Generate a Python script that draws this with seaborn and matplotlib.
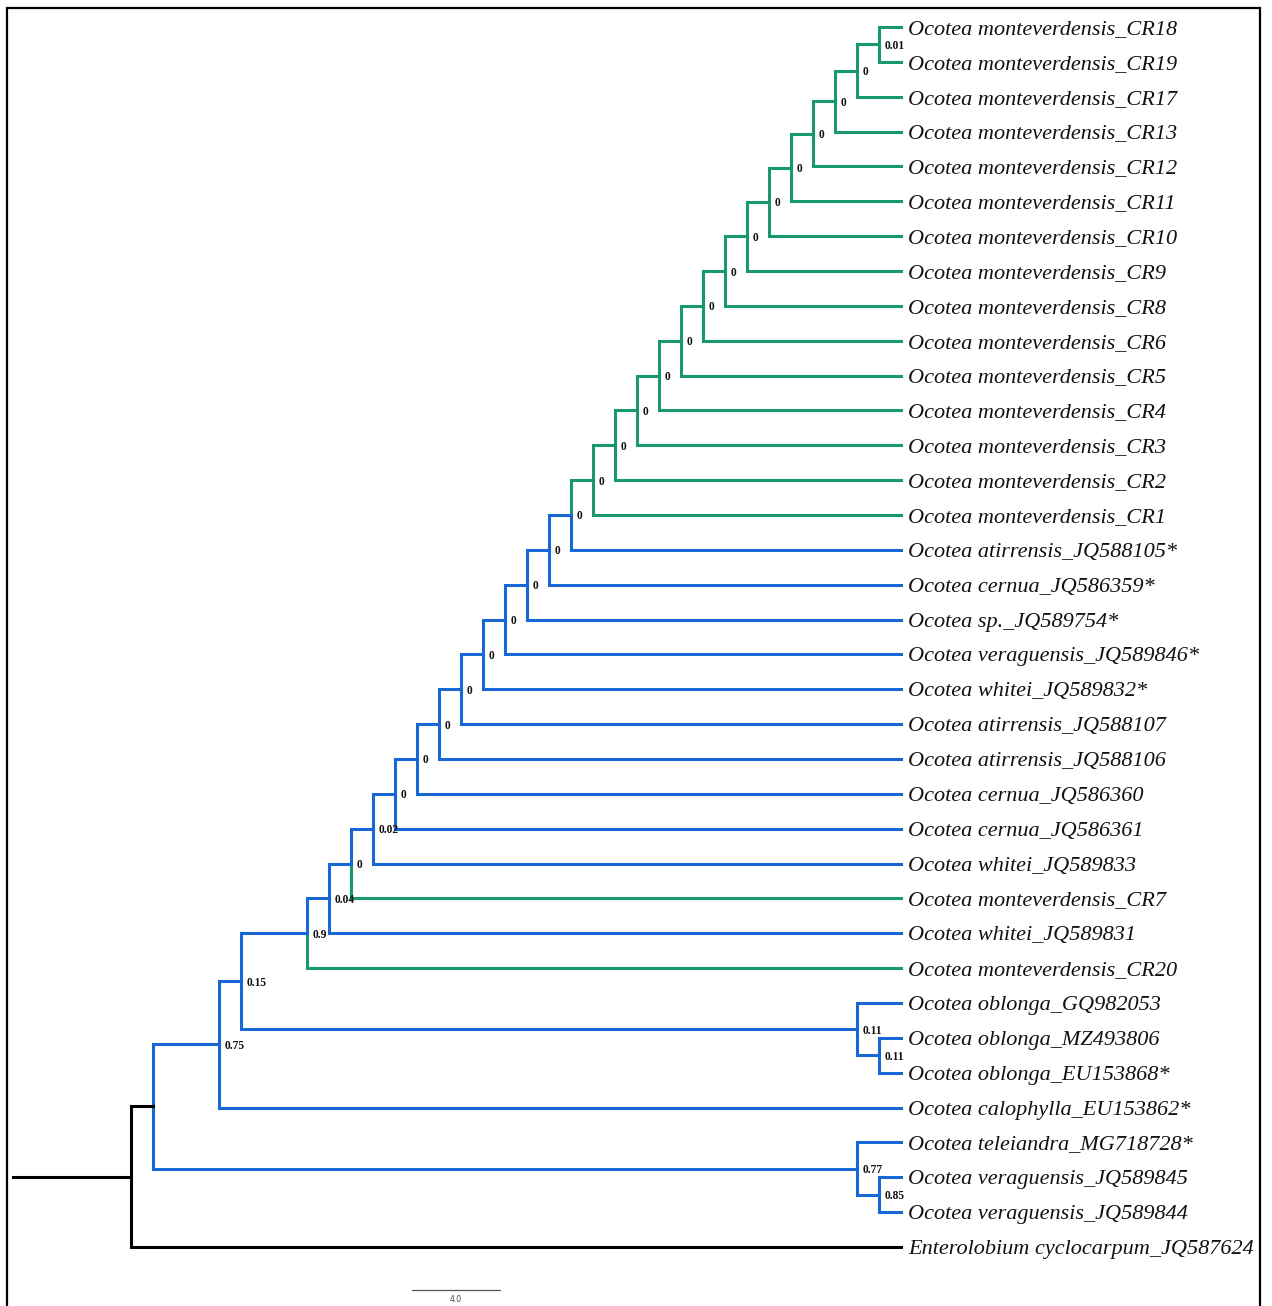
import matplotlib
matplotlib.use("Agg")
import matplotlib.pyplot as plt
import seaborn as sns
import pandas as pd
from matplotlib.patches import Rectangle

# ---------------- data ----------------
leaf_names = [
    "Ocotea monteverdensis_CR18", "Ocotea monteverdensis_CR19", "Ocotea monteverdensis_CR17",
    "Ocotea monteverdensis_CR13", "Ocotea monteverdensis_CR12", "Ocotea monteverdensis_CR11",
    "Ocotea monteverdensis_CR10", "Ocotea monteverdensis_CR9", "Ocotea monteverdensis_CR8",
    "Ocotea monteverdensis_CR6", "Ocotea monteverdensis_CR5", "Ocotea monteverdensis_CR4",
    "Ocotea monteverdensis_CR3", "Ocotea monteverdensis_CR2", "Ocotea monteverdensis_CR1",
    "Ocotea atirrensis_JQ588105*", "Ocotea cernua_JQ586359*", "Ocotea sp._JQ589754*",
    "Ocotea veraguensis_JQ589846*", "Ocotea whitei_JQ589832*", "Ocotea atirrensis_JQ588107",
    "Ocotea atirrensis_JQ588106", "Ocotea cernua_JQ586360", "Ocotea cernua_JQ586361",
    "Ocotea whitei_JQ589833", "Ocotea monteverdensis_CR7", "Ocotea whitei_JQ589831",
    "Ocotea monteverdensis_CR20", "Ocotea oblonga_GQ982053", "Ocotea oblonga_MZ493806",
    "Ocotea oblonga_EU153868*", "Ocotea calophylla_EU153862*", "Ocotea teleiandra_MG718728*",
    "Ocotea veraguensis_JQ589845", "Ocotea veraguensis_JQ589844", "Enterolobium cyclocarpum_JQ587624",
]
leaf_parent = [
    "N34", "N34", "N33", "N32", "N31", "N30", "N29", "N28", "N27", "N26", "N25", "N24",
    "N23", "N22", "N21", "N20", "N19", "N18", "N17", "N16", "N15", "N14", "N13", "N12",
    "N11", "N10", "N9", "N8", "O33", "O34", "O34", "N4", "T33", "T34", "T34", "N0",
]
tip_depth = 35.0
root_stem = 5.36

node_names = ["N0", "N1", "T33", "T34", "N4", "N5", "O33", "O34"] + [f"N{i}" for i in range(8, 35)]
node_parent = [None, "N0", "N1", "T33", "N1", "N4", "N5", "O33", "N5"] + [f"N{i}" for i in range(8, 34)]
node_depth = [0, 1, 33, 34, 4, 5, 33, 34] + list(range(8, 35))
node_support = ["", "", "0.77", "0.85", "0.75", "0.15", "0.11", "0.11",
                "0.9", "0.04", "0", "0.02"] + ["0"] * 22 + ["0.01"]

scale_value = 4.0
scale_label = "4.0"

# ---------------- layout ----------------
W, H = 1272, 1306
PX_X = 22.0        # pixels per branch-length unit
X0 = 131.0         # pixel x of root node
PX_Y = 34.857      # pixels per leaf row
Y0 = 27.0          # pixel y of first leaf

GREEN = "#17996b"
BLUE = "#1767d4"
BLACK = "#000000"

sns.set_theme(style="white")
plt.rcParams["font.family"] = ["Liberation Serif", "DejaVu Serif"]

# ---------------- build tree coordinates ----------------
depth = {n: d for n, d in zip(node_names, node_depth)}
parent = {n: p for n, p in zip(node_names, node_parent)}
ycoord = {}
children = {n: [] for n in node_names}
for i, (lf, p) in enumerate(zip(leaf_names, leaf_parent)):
    depth[lf] = tip_depth
    parent[lf] = p
    ycoord[lf] = float(i)
    children[p].append(lf)
for n, p in zip(node_names, node_parent):
    if p is not None:
        children[p].append(n)

for n in sorted(node_names, key=lambda k: -depth[k]):
    ycoord[n] = sum(ycoord[c] for c in children[n]) / len(children[n])

def leaves_under(n):
    if n not in children:
        return [n]
    out = []
    for c in children[n]:
        out += leaves_under(c)
    return out

rows = []
seg = 0
for n in leaf_names + node_names:
    p = parent[n]
    if p is None:
        continue
    if p == "N0":
        kind = "out"
    elif all("monteverdensis" in lf for lf in leaves_under(n)):
        kind = "mono"
    else:
        kind = "other"
    for (x, y) in [(depth[p], ycoord[p]), (depth[p], ycoord[n]), (depth[n], ycoord[n])]:
        rows.append({"x": x, "y": y, "seg": seg, "kind": kind})
    seg += 1
for (x, y) in [(-root_stem, ycoord["N0"]), (0.0, ycoord["N0"])]:
    rows.append({"x": x, "y": y, "seg": seg, "kind": "out"})
df = pd.DataFrame(rows)

# ---------------- draw ----------------
fig = plt.figure(figsize=(W / 100, H / 100), dpi=100)
ax = fig.add_axes([0, 0, 1, 1])

sns.lineplot(data=df, x="x", y="y", units="seg", hue="kind", estimator=None, sort=False,
             palette={"mono": GREEN, "other": BLUE, "out": BLACK}, linewidth=2.2,
             legend=False, ax=ax, solid_joinstyle="miter", solid_capstyle="projecting")

ax.set_xlim(-X0 / PX_X, (W - X0) / PX_X)
ax.set_ylim((H - Y0) / PX_Y, -Y0 / PX_Y)
ax.axis("off")

for lf in leaf_names:
    ax.text(tip_depth + 7 / PX_X, ycoord[lf] + 7 / PX_Y, lf, fontsize=16, fontstyle="italic",
            ha="left", va="baseline", color="#111111")

for n, s in zip(node_names, node_support):
    if s:
        ax.text(depth[n] + 6 / PX_X, ycoord[n], s, fontsize=8.3, fontweight="bold",
                ha="left", va="center_baseline", color="#111111")

# scale bar
sb_x = (412 - X0) / PX_X
sb_y = (1290.5 - Y0) / PX_Y
ax.plot([sb_x, sb_x + scale_value], [sb_y, sb_y], color="#555555", lw=0.9)
ax.text(sb_x + scale_value / 2, (1300 - Y0) / PX_Y, scale_label, fontsize=5.5,
        family="DejaVu Sans", ha="center", va="center", color="#444444")

# frame
fig.patches.append(Rectangle((7 / W, -0.01), (1260 - 7) / W, 1.01 - 8 / H,
                             transform=fig.transFigure, fill=False, edgecolor="black",
                             linewidth=1.6))

fig.savefig("out.png", dpi=100)
